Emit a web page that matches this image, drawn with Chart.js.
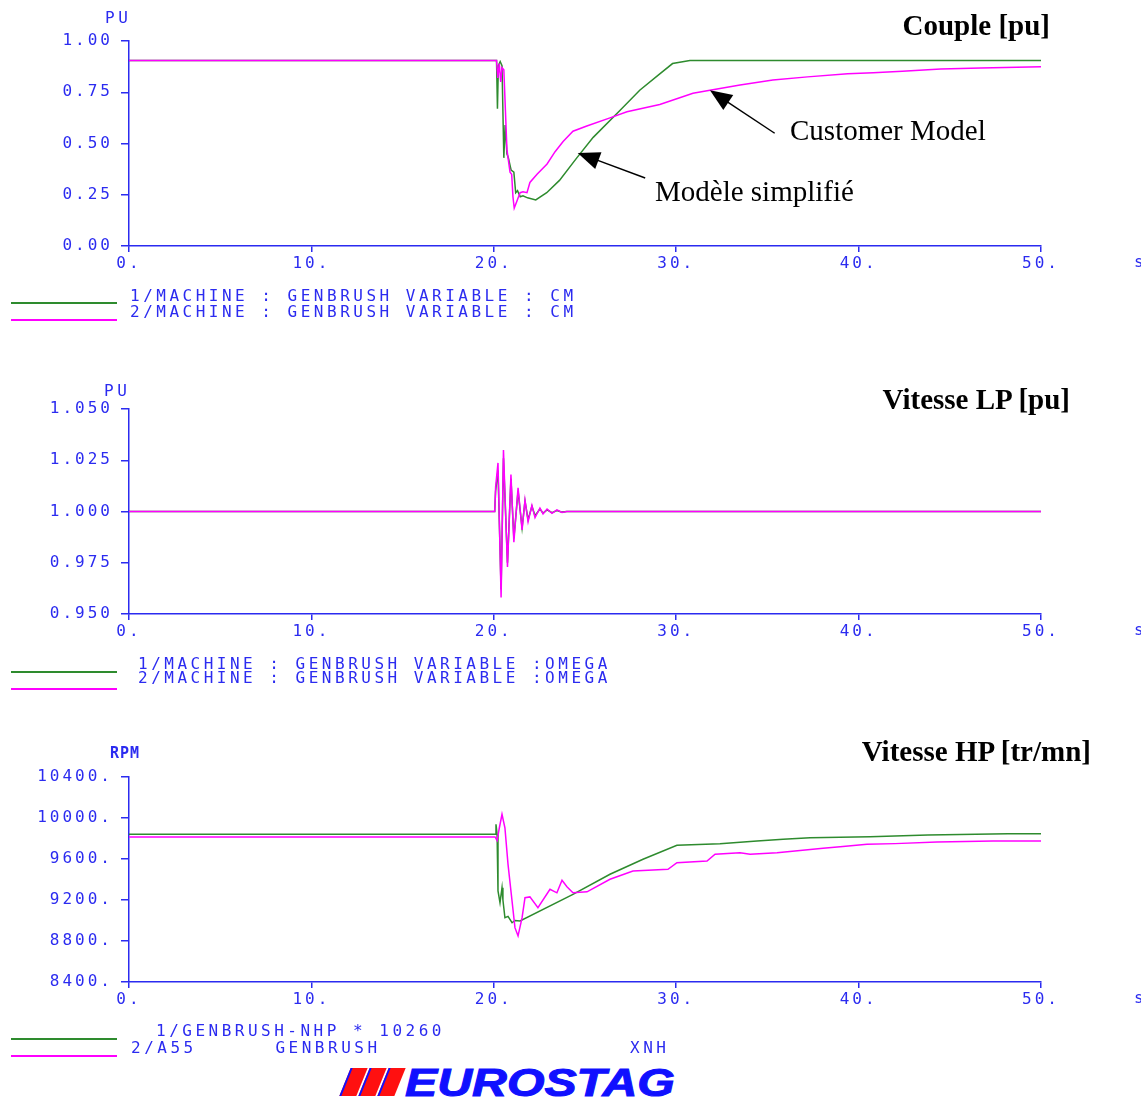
<!DOCTYPE html>
<html>
<head>
<meta charset="utf-8">
<title>Eurostag - Couple / Vitesse</title>
<script src="https://cdn.jsdelivr.net/npm/chart.js@4.4.1/dist/chart.umd.min.js"></script>
<style>
body { margin: 0; background: #fff; }
#page { position: relative; width: 1141px; height: 1097px; overflow: hidden; background: #fff; }
canvas { position: absolute; left: 0; }
.mono { position: absolute; font-family: 'DejaVu Sans Mono', monospace; font-size: 16px; letter-spacing: 3.5px; color: #2b2bf0; white-space: pre; line-height: 16px; }
.title { position: absolute; font-family: 'Liberation Serif', 'Times New Roman', serif; font-weight: bold; font-size: 29px; line-height: 29px; color: #000; white-space: nowrap; }
.note { position: absolute; font-family: 'Liberation Serif', 'Times New Roman', serif; font-size: 29px; line-height: 29px; color: #000; white-space: nowrap; }
.swatch { position: absolute; left: 11px; width: 106px; height: 0; border-top: 2px solid; }
.bar { position: absolute; top: 1068px; width: 15px; height: 28px; background: #ff1010; border-left: 2px solid #1010ff; transform: skewX(-22deg); }
#logo { position: absolute; left: 405px; top: 1064px; font-family: 'Liberation Sans', Arial, sans-serif; font-weight: bold; font-style: italic; font-size: 38px; line-height: 38px; color: #1010ff; -webkit-text-stroke: 1px #1010ff; transform: scaleX(1.27); transform-origin: left top; white-space: nowrap; }
</style>
</head>
<body>
<div id="page">
  <canvas id="couple" width="1141" height="290" style="top:0px"></canvas>
  <canvas id="omega" width="1141" height="290" style="top:368px"></canvas>
  <canvas id="rpm" width="1141" height="290" style="top:736px"></canvas>

  <!-- panel 1 -->
  <div class="mono" style="left:105px; top:10px;">PU</div>
  <div class="mono" style="left:1134px; top:254px;">s</div>
  <div class="title" style="right:91px; top:11px;">Couple [pu]</div>
  <div class="note" style="left:790px; top:116px;">Customer Model</div>
  <div class="note" style="left:655px; top:177px;">Modèle simplifié</div>
  <div class="swatch" style="top:302px; border-color:#2e8b2e;"></div>
  <div class="swatch" style="top:319px; border-color:#ff00ff;"></div>
  <div class="mono" style="left:130px; top:288px;">1/MACHINE : GENBRUSH VARIABLE : CM</div>
  <div class="mono" style="left:130px; top:304px;">2/MACHINE : GENBRUSH VARIABLE : CM</div>

  <!-- panel 2 -->
  <div class="mono" style="left:104px; top:383px;">PU</div>
  <div class="mono" style="left:1134px; top:622px;">s</div>
  <div class="title" style="right:71px; top:385px;">Vitesse LP [pu]</div>
  <div class="swatch" style="top:671px; border-color:#2e8b2e;"></div>
  <div class="swatch" style="top:688px; border-color:#ff00ff;"></div>
  <div class="mono" style="left:138px; top:656px;">1/MACHINE : GENBRUSH VARIABLE :OMEGA</div>
  <div class="mono" style="left:138px; top:670px;">2/MACHINE : GENBRUSH VARIABLE :OMEGA</div>

  <!-- panel 3 -->
  <div class="mono" style="left:110px; top:745px; font-weight:bold; font-size:15px; letter-spacing:1px;">RPM</div>
  <div class="mono" style="left:1134px; top:990px;">s</div>
  <div class="title" style="right:50px; top:737px;">Vitesse HP [tr/mn]</div>
  <div class="swatch" style="top:1038px; border-color:#2e8b2e;"></div>
  <div class="swatch" style="top:1055px; border-color:#ff00ff;"></div>
  <div class="mono" style="left:156px; top:1023px;">1/GENBRUSH-NHP * 10260</div>
  <div class="mono" style="left:131px; top:1040px;">2/A55      GENBRUSH                   XNH</div>

  <!-- logo -->
  <div class="bar" style="left:345px;"></div>
  <div class="bar" style="left:364px;"></div>
  <div class="bar" style="left:383px;"></div>
  <div id="logo">EUROSTAG</div>
</div>

<script>
// time axis (seconds)
var xTicks = [0, 10, 20, 30, 40, 50];

// Couple [pu] - simplified model (green)
var coupleSimplT = [0, 20.15, 20.2, 20.25, 20.35, 20.45, 20.55, 20.62, 20.72, 20.8, 20.95, 21.1, 21.2, 21.3, 21.45, 21.6, 21.85, 22.3, 22.9, 23.6, 24.55, 25.45, 26.9, 28.0, 29.1, 29.8, 30.75, 50];
var coupleSimplV = [0.905, 0.905, 0.67, 0.88, 0.90, 0.88, 0.43, 0.59, 0.45, 0.43, 0.37, 0.36, 0.26, 0.27, 0.24, 0.245, 0.235, 0.225, 0.26, 0.32, 0.43, 0.53, 0.66, 0.76, 0.84, 0.89, 0.905, 0.905];
// Couple [pu] - customer model (magenta)
var coupleCustT = [0, 20.15, 20.22, 20.3, 20.38, 20.45, 20.55, 20.72, 20.89, 20.98, 21.05, 21.12, 21.27, 21.44, 21.6, 21.82, 21.98, 22.37, 22.92, 23.36, 23.8, 24.34, 25.1, 26.37, 27.3, 29.1, 30.92, 31.85, 33.5, 35.3, 37.2, 39.4, 40.8, 42.4, 44.5, 46.7, 50];
var coupleCustV = [0.905, 0.905, 0.82, 0.89, 0.80, 0.87, 0.86, 0.47, 0.36, 0.35, 0.24, 0.185, 0.22, 0.26, 0.265, 0.26, 0.31, 0.35, 0.40, 0.46, 0.51, 0.56, 0.585, 0.625, 0.655, 0.69, 0.745, 0.76, 0.785, 0.81, 0.825, 0.84, 0.845, 0.853, 0.863, 0.868, 0.875];
var coupleTicks = [0, 0.25, 0.5, 0.75, 1.0];

// Vitesse LP [pu]
var omegaT = [0, 20.05, 20.1, 20.23, 20.4, 20.53, 20.75, 20.94, 21.1, 21.33, 21.55, 21.71, 21.88, 22.09, 22.26, 22.53, 22.7, 22.92, 23.19, 23.46, 23.74, 24.0, 50];
var omegaSimplV = [1, 1, 1.010, 1.020, 0.962, 1.026, 0.975, 1.016, 0.987, 1.010, 0.992, 1.005, 0.996, 1.0025, 0.998, 1.0012, 0.9992, 1.0008, 0.9994, 1.0005, 0.9997, 1, 1];
var omegaCustV = [1, 1, 1.012, 1.0237, 0.958, 1.030, 0.973, 1.018, 0.985, 1.0115, 0.991, 1.0056, 0.995, 1.003, 0.997, 1.0017, 0.9988, 1.0012, 0.9991, 1.0008, 0.9995, 1, 1];
var omegaTicks = [0.95, 0.975, 1.0, 1.025, 1.05];

// Vitesse HP [tr/mn]
var rpmSimplT = [0, 20.07, 20.12, 20.18, 20.23, 20.34, 20.45, 20.5, 20.61, 20.78, 21.0, 21.16, 21.44, 24.34, 26.37, 28.18, 30.04, 32.4, 34.43, 35.86, 37.34, 40.63, 43.8, 48.19, 50];
var rpmSimplV = [9841, 9841, 9938, 9841, 9288, 9174, 9320, 9200, 9027, 9040, 8978, 9000, 8995, 9255, 9451, 9597, 9734, 9749, 9776, 9792, 9808, 9818, 9834, 9847, 9847];
var rpmCustT = [0, 20.07, 20.18, 20.3, 20.45, 20.61, 20.78, 21.0, 21.16, 21.33, 21.55, 21.71, 21.98, 22.42, 23.08, 23.46, 23.74, 24.01, 24.34, 25.11, 26.37, 27.63, 29.55, 30.04, 31.69, 32.13, 33.5, 34.05, 35.53, 36.51, 38.05, 39.14, 40.46, 42.0, 44.3, 47.37, 50];
var rpmCustV = [9815, 9815, 9780, 9900, 10036, 9905, 9548, 9190, 8930, 8849, 9027, 9222, 9230, 9125, 9304, 9270, 9392, 9330, 9271, 9280, 9402, 9483, 9500, 9564, 9580, 9646, 9661, 9646, 9660, 9678, 9705, 9721, 9743, 9750, 9766, 9776, 9776];
var rpmTicks = [8400, 8800, 9200, 9600, 10000, 10400];

// annotation arrows on the torque plot, in data units (tail -> tip)
var arrowFromT = [35.4, 28.3];
var arrowFromV = [0.55, 0.332];
var arrowToT = [31.85, 24.6];
var arrowToV = [0.76, 0.454];

var GREEN = '#2e8b2e';
var MAGENTA = '#ff00ff';
var BLUE = '#2b2bf0';
var tickFont = { family: 'DejaVu Sans Mono', size: 16 };

// old plotter look: spaced characters on the axis labels
var spacingPlugin = {
    id: 'spacing',
    beforeDraw: function (chart) {
        chart.ctx.letterSpacing = '3px';
    }
};

var arrowPlugin = {
    id: 'arrows',
    afterDraw: function (chart) {
        var ctx = chart.ctx, xs = chart.scales.x, ys = chart.scales.y;
        for (var i = 0; i < arrowToT.length; i++) {
            var x1 = xs.getPixelForValue(arrowFromT[i]), y1 = ys.getPixelForValue(arrowFromV[i]);
            var x2 = xs.getPixelForValue(arrowToT[i]), y2 = ys.getPixelForValue(arrowToV[i]);
            var a = Math.atan2(y2 - y1, x2 - x1);
            var c = Math.cos(a), s = Math.sin(a);
            ctx.save();
            ctx.strokeStyle = '#000';
            ctx.fillStyle = '#000';
            ctx.lineWidth = 1.5;
            ctx.beginPath();
            ctx.moveTo(x1, y1);
            ctx.lineTo(x2 - 15 * c, y2 - 15 * s);
            ctx.stroke();
            ctx.beginPath();
            ctx.moveTo(x2, y2);
            ctx.lineTo(x2 - 22 * c + 9 * s, y2 - 22 * s - 9 * c);
            ctx.lineTo(x2 - 22 * c - 9 * s, y2 - 22 * s + 9 * c);
            ctx.closePath();
            ctx.fill();
            ctx.restore();
        }
    }
};

function toPoints(t, v) {
    return t.map(function (x, i) { return { x: x, y: v[i] }; });
}

function makeChart(id, series, yTicks, yFormat, extra) {
    var ctx = document.getElementById(id).getContext('2d');
    return new Chart(ctx, {
        type: 'line',
        data: {
            datasets: series.map(function (s) {
                return {
                    data: toPoints(s.t, s.v),
                    borderColor: s.color,
                    borderWidth: 1.5,
                    pointRadius: 0,
                    fill: false,
                    tension: 0,
                    order: s.order
                };
            })
        },
        options: {
            responsive: false,
            animation: false,
            devicePixelRatio: 1,
            layout: { padding: { top: 41, right: 100, left: 0, bottom: 0 } },
            plugins: { legend: { display: false }, tooltip: { enabled: false } },
            scales: {
                x: {
                    type: 'linear',
                    min: xTicks[0],
                    max: xTicks[xTicks.length - 1],
                    afterBuildTicks: function (s) { s.ticks = xTicks.map(function (v) { return { value: v }; }); },
                    afterFit: function (s) { s.height = 44; },
                    ticks: { callback: function (v) { return v + '.'; }, font: tickFont, color: BLUE, padding: 2, maxRotation: 0, autoSkip: false },
                    grid: { drawOnChartArea: false, tickLength: 6, color: BLUE, lineWidth: 1.5 },
                    border: { color: BLUE, width: 1.5 }
                },
                y: {
                    type: 'linear',
                    min: yTicks[0],
                    max: yTicks[yTicks.length - 1],
                    afterBuildTicks: function (s) { s.ticks = yTicks.map(function (v) { return { value: v }; }); },
                    afterFit: function (s) { s.width = 129; },
                    ticks: { callback: yFormat, font: tickFont, color: BLUE, padding: 8, autoSkip: false },
                    grid: { drawOnChartArea: false, tickLength: 8, color: BLUE, lineWidth: 1.5 },
                    border: { color: BLUE, width: 1.5 }
                }
            }
        },
        plugins: [spacingPlugin].concat(extra || [])
    });
}

document.addEventListener('DOMContentLoaded', function () {
    makeChart('couple', [
        { t: coupleSimplT, v: coupleSimplV, color: GREEN, order: 2 },
        { t: coupleCustT, v: coupleCustV, color: MAGENTA, order: 1 }
    ], coupleTicks, function (v) { return v.toFixed(2); }, [arrowPlugin]);

    makeChart('omega', [
        { t: omegaT, v: omegaSimplV, color: GREEN, order: 2 },
        { t: omegaT, v: omegaCustV, color: MAGENTA, order: 1 }
    ], omegaTicks, function (v) { return v.toFixed(3); });

    makeChart('rpm', [
        { t: rpmSimplT, v: rpmSimplV, color: GREEN, order: 2 },
        { t: rpmCustT, v: rpmCustV, color: MAGENTA, order: 1 }
    ], rpmTicks, function (v) { return v + '.'; });
});
</script>
</body>
</html>
